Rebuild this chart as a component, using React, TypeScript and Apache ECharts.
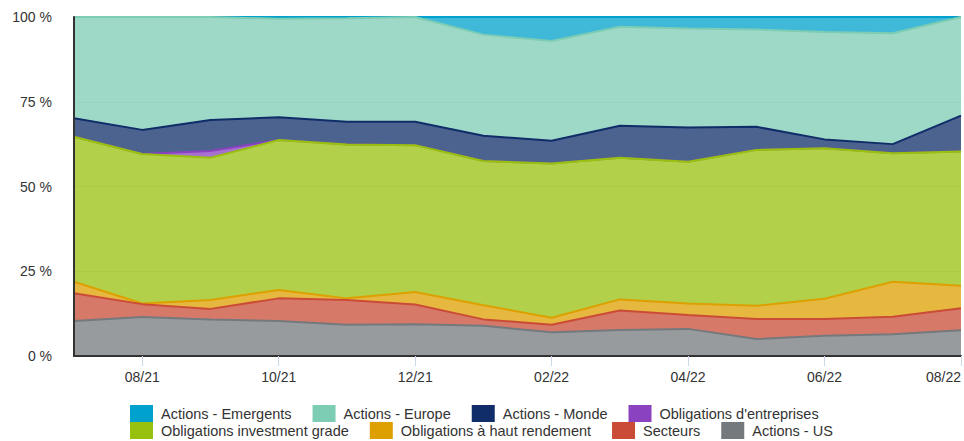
import React, { useEffect, useRef } from 'react';
import * as echarts from 'echarts';

const months = ['07/21', '08/21', '09/21', '10/21', '11/21', '12/21', '01/22', '02/22', '03/22', '04/22', '05/22', '06/22', '07/22', '08/22'];

const actionsUS = [10.3, 11.5, 10.8, 10.3, 9.2, 9.4, 8.9, 7.0, 7.7, 8.0, 5.0, 6.0, 6.4, 7.6];
const secteurs = [8.2, 3.8, 3.1, 6.7, 7.3, 5.8, 1.9, 2.2, 5.7, 4.1, 5.9, 4.9, 5.2, 6.5];
const hautRendement = [3.4, 0.2, 2.6, 2.5, 0.5, 3.7, 4.2, 2.1, 3.3, 3.4, 3.9, 6.0, 10.3, 6.6];
const investmentGrade = [42.8, 44.1, 42.0, 44.2, 45.4, 43.3, 42.5, 45.5, 41.8, 41.8, 46.0, 44.4, 37.9, 39.6];
const entreprises = [0, 0, 2.0, 0, 0, 0, 0, 0, 0, 0, 0, 0, 0, 0];
const monde = [5.4, 7.1, 9.1, 6.7, 6.7, 6.9, 7.5, 6.7, 9.4, 10.1, 6.8, 2.6, 2.7, 10.6];
const europe = [29.9, 33.3, 30.4, 29.1, 30.5, 30.9, 29.8, 29.4, 29.2, 29.2, 28.7, 31.7, 32.7, 29.1];
const emergents = [0, 0, 0, 0.5, 0.4, 0, 5.2, 7.1, 2.9, 3.4, 3.7, 4.4, 4.8, 0];

const yTicks = [0, 25, 50, 75, 100];

// bottom of stack first
const seriesDefs = [
  { name: 'Actions - US', data: actionsUS, color: '#74797d' },
  { name: 'Secteurs', data: secteurs, color: '#ca4c36' },
  { name: 'Obligations à haut rendement', data: hautRendement, color: '#dda000' },
  { name: 'Obligations investment grade', data: investmentGrade, color: '#98c00e' },
  { name: "Obligations d'entreprises", data: entreprises, color: '#8a42c0' },
  { name: 'Actions - Monde', data: monde, color: '#102d69' },
  { name: 'Actions - Europe', data: europe, color: '#7dccb4' },
  { name: 'Actions - Emergents', data: emergents, color: '#00a1cc' },
];

const legendRow1 = ['Actions - Emergents', 'Actions - Europe', 'Actions - Monde', "Obligations d'entreprises"];
const legendRow2 = ['Obligations investment grade', 'Obligations à haut rendement', 'Secteurs', 'Actions - US'];

const FONT = '"Liberation Sans", Arial, Helvetica, sans-serif';

export default function App() {
  const ref = useRef<HTMLDivElement>(null);
  useEffect(() => {
    const chart = echarts.init(ref.current!, undefined, { renderer: 'svg' });
    const legendBase = {
      left: 130,
      padding: 0,
      icon: 'rect',
      itemWidth: 23,
      itemHeight: 17,
      itemGap: 21,
      textStyle: { fontSize: 14.5, color: '#333', fontFamily: FONT, padding: [0, 0, 0, 3] },
    };
    const yMin = yTicks[0];
    const yMax = yTicks[yTicks.length - 1];
    chart.setOption({
      animation: false,
      textStyle: { fontFamily: FONT },
      grid: { left: 74, right: 1, top: 17, bottom: 85, containLabel: false },
      legend: [
        { ...legendBase, top: 405, data: legendRow1 },
        { ...legendBase, top: 422, data: legendRow2 },
      ],
      xAxis: {
        type: 'category',
        data: months,
        boundaryGap: false,
        axisLine: { show: true, lineStyle: { color: '#333', width: 2 } },
        axisTick: {
          show: true,
          length: 10,
          interval: (i: number) => i % 2 === 1,
          lineStyle: { color: '#ccd6eb', width: 1 },
        },
        axisLabel: {
          interval: (i: number) => i % 2 === 1,
          margin: 14,
          fontSize: 14,
          color: '#333',
          fontFamily: FONT,
          alignMaxLabel: 'right',
        },
        splitLine: { show: false },
        z: 20,
      },
      yAxis: [
        {
          type: 'value',
          min: yMin,
          max: yMax,
          interval: 25,
          axisLine: { show: false },
          axisTick: { show: false },
          axisLabel: {
            margin: 22,
            fontSize: 14,
            color: '#333',
            fontFamily: FONT,
            formatter: (v: number) => `${v} %`,
          },
          splitLine: { show: true, lineStyle: { color: '#e6e6e6', width: 1 } },
        },
        {
          type: 'value',
          position: 'left',
          min: yMin,
          max: yMax,
          interval: 25,
          axisLine: { show: true, onZero: false, lineStyle: { color: '#333', width: 2 } },
          axisTick: { show: false },
          axisLabel: { show: false },
          splitLine: { show: false },
          z: 20,
        },
      ],
      series: seriesDefs.map((s, i) => ({
        type: 'line',
        name: s.name,
        data: s.data,
        stack: 'total',
        yAxisIndex: 0,
        color: s.color,
        symbol: 'none',
        showSymbol: false,
        lineStyle: { width: 2, color: s.color },
        areaStyle: { color: s.color, opacity: 0.75 },
        z: 10 - i,
        emphasis: { disabled: true },
      })),
    });
    return () => chart.dispose();
  }, []);
  return <div ref={ref} style={{ position: 'absolute', left: 0, top: 0, width: 964, height: 441 }} />;
}
